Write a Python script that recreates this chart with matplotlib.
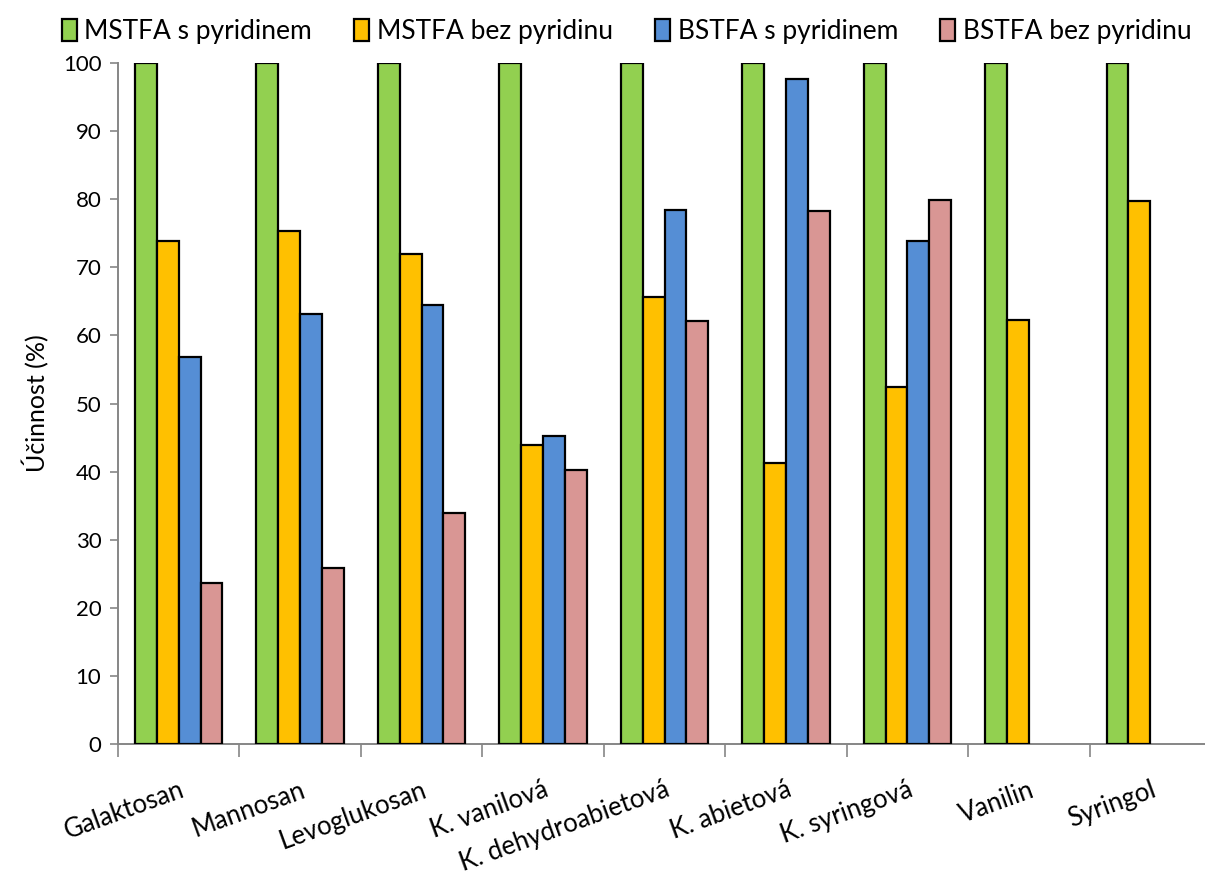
import numpy as np
import matplotlib
matplotlib.use('Agg')
import matplotlib.pyplot as plt
from matplotlib.ticker import FixedLocator

plt.rcParams['font.family'] = ['Lato', 'DejaVu Sans']

categories = ['Galaktosan', 'Mannosan', 'Levoglukosan', 'K. vanilová',
              'K. dehydroabietová', 'K. abietová', 'K. syringová',
              'Vanilin', 'Syringol']
series_names = ['MSTFA s pyridinem', 'MSTFA bez pyridinu',
                'BSTFA s pyridinem', 'BSTFA bez pyridinu']
mstfa_s = [100, 100, 100, 100, 100, 100, 100, 100, 100]
mstfa_bez = [73.8, 75.4, 72.0, 43.9, 65.7, 41.2, 52.4, 62.3, 79.8]
bstfa_s = [56.8, 63.2, 64.4, 45.2, 78.4, 97.7, 73.9, np.nan, np.nan]
bstfa_bez = [23.6, 25.8, 33.9, 40.2, 62.1, 78.3, 79.9, np.nan, np.nan]
colors = ['#92D050', '#FFC000', '#558ED5', '#D99694']

fig = plt.figure(figsize=(12.05, 8.75), dpi=100)
ax = fig.add_axes([118/1205, 131/875, 1093/1205, 681/875])

x = np.arange(len(categories))
w = 0.18
for i, (vals, name, c) in enumerate(zip([mstfa_s, mstfa_bez, bstfa_s, bstfa_bez],
                                          series_names, colors)):
    ax.bar(x + (i - 1.5) * w, vals, w, color=c, edgecolor='black',
           linewidth=1.6, label=name, zorder=3)

ax.set_xlim(-0.5, len(categories) - 0.5)
ax.set_ylim(0, 100)
ax.set_yticks(np.arange(0, 101, 10))
ax.tick_params(axis='y', labelsize=16, length=6, color='#868686', width=1.2, pad=6)

# boundary ticks with no labels, labels at category centres
ax.xaxis.set_major_locator(FixedLocator(np.arange(-0.5, len(categories), 1.0)))
ax.set_xticklabels([])
ax.tick_params(axis='x', which='major', length=9, color='#868686', width=1.2)
ax.set_xticks(x, minor=True)
ax.set_xticklabels(categories, minor=True, rotation=20, ha='right',
                   va='top', rotation_mode='anchor', fontsize=18.5)
ax.tick_params(axis='x', which='minor', length=0, pad=24)

for s in ['top', 'right']:
    ax.spines[s].set_visible(False)
for s in ['left', 'bottom']:
    ax.spines[s].set_color('#868686')
    ax.spines[s].set_linewidth(1.4)

ax.set_ylabel('Účinnost (%)', fontsize=18, labelpad=10)

fig.legend(loc='upper center', bbox_to_anchor=(0.52, 1.005), ncol=4,
           frameon=False, fontsize=19, handlelength=0.55, handleheight=0.9,
           handletextpad=0.3, columnspacing=1.6)

fig.savefig('out.png', dpi=100)
